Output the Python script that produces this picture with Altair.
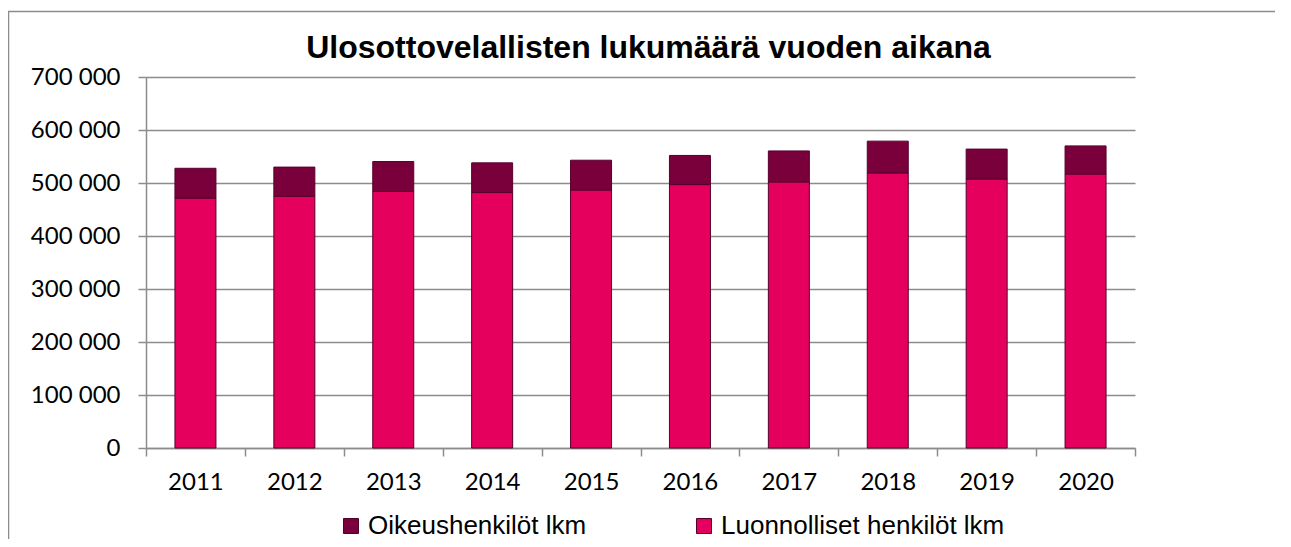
import altair as alt
import pandas as pd

years = ["2011", "2012", "2013", "2014", "2015", "2016", "2017", "2018", "2019", "2020"]
luonnolliset = [471600, 475000, 484000, 482000, 486800, 497000, 502000, 519000, 507600, 517000]
oikeus = [56200, 55000, 56500, 56000, 56200, 55000, 58500, 60000, 56400, 53000]

series_names = ["Oikeushenkilöt lkm", "Luonnolliset henkilöt lkm"]
series_colors = ["#7A003C", "#E6005E"]
y_ticks = [0, 100000, 200000, 300000, 400000, 500000, 600000, 700000]

rows = []
for i, yr in enumerate(years):
    rows.append({"vuosi": yr, "sarja": series_names[1], "arvo": luonnolliset[i], "ord": 0})
    rows.append({"vuosi": yr, "sarja": series_names[0], "arvo": oikeus[i], "ord": 1})
df = pd.DataFrame(rows)

bars = alt.Chart(df).mark_bar(size=41, stroke="#55002B", strokeWidth=1).encode(
    x=alt.X("vuosi:N", sort=years, title=None,
            scale=alt.Scale(paddingInner=0, paddingOuter=0),
            axis=alt.Axis(labelAngle=0, tickBand="extent", tickSize=8, labelPadding=14,
                          labelFont="Lato", labelFontSize=24, labelColor="black",
                          domainColor="#8C8C8C", tickColor="#8C8C8C", domainWidth=1.5, tickWidth=1.5,
                          grid=False)),
    y=alt.Y("arvo:Q", stack="zero", title=None,
            scale=alt.Scale(domain=[0, 700000], nice=False),
            axis=alt.Axis(values=y_ticks, tickSize=8, labelPadding=18,
                          labelExpr="datum.value == 0 ? '0' : floor(datum.value / 1000) + ' 000'",
                          labelFont="Lato", labelFontSize=24, labelColor="black",
                          domainColor="#8C8C8C", tickColor="#8C8C8C", domainWidth=1.5, tickWidth=1.5,
                          grid=True, gridColor="#8C8C8C", gridWidth=1.5)),
    color=alt.Color("sarja:N", title=None,
                    scale=alt.Scale(domain=series_names, range=series_colors),
                    legend=alt.Legend(orient="none", legendX=192, legendY=436, direction="horizontal",
                                      symbolType="square", symbolSize=225, symbolStrokeColor="#55002B",
                                      symbolStrokeWidth=1, labelOffset=4, columnPadding=104, labelLimit=0,
                                      labelFont="Liberation Sans", labelFontSize=26, labelColor="black")),
    order=alt.Order("ord:Q"),
)

border = alt.Chart(alt.Data(values=[{"a": 1}])).mark_rect(
    fill=None, stroke="#8C8C8C", strokeWidth=1.5
).encode(
    x=alt.value(-137.5), x2=alt.value(1300),
    y=alt.value(-65.5), y2=alt.value(600),
)

chart = alt.layer(border, bars).properties(
    width=989, height=371,
    title=alt.TitleParams("Ulosottovelallisten lukumäärä vuoden aikana",
                          font="Liberation Sans", fontSize=32, fontWeight="bold",
                          color="black", anchor="middle", dx=8, offset=-54),
    padding={"left": 138, "top": 69, "right": 140, "bottom": 91},
    autosize=alt.AutoSizeParams(type="none"),
).configure_view(stroke=None)

chart.save("out.html", embed_options={"renderer": "svg", "actions": False})
